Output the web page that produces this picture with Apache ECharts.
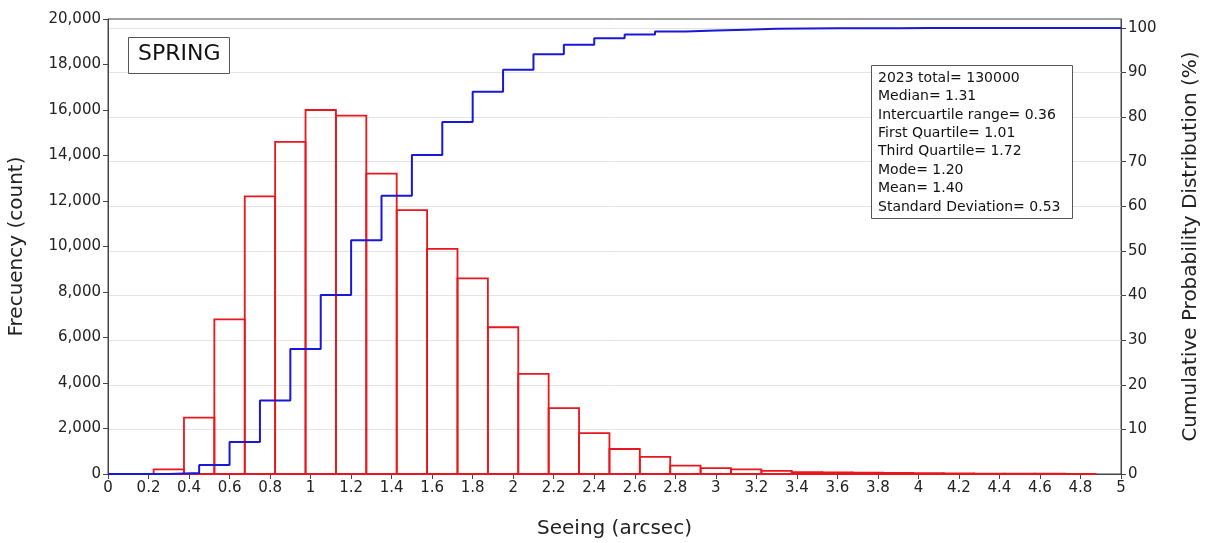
<!DOCTYPE html>
<html>
<head>
<meta charset="utf-8">
<script src="https://cdn.jsdelivr.net/npm/echarts@6/dist/echarts.min.js"></script>
<style>
html,body{margin:0;padding:0;background:#fff;}
#chart{width:1205px;height:543px;}
</style>
</head>
<body>
<div id="chart"></div>
<script>
// ---- data ----
var binWidth = 0.15;
var binCenters = [0.3,0.45,0.6,0.75,0.9,1.05,1.2,1.35,1.5,1.65,1.8,1.95,2.1,2.25,2.4,2.55,2.7,2.85,3.0,3.15,3.3,3.45,3.6,3.75,3.9,4.05,4.2,4.35,4.5,4.65,4.8];
var counts = [200,2480,6800,12200,14600,16000,15750,13200,11600,9900,8600,6450,4400,2900,1800,1100,750,370,260,200,140,80,70,60,45,35,25,20,15,10,6];
var cumX = [0,0.3,0.45,0.6,0.75,0.9,1.05,1.2,1.35,1.5,1.65,1.8,1.95,2.1,2.25,2.4,2.55,2.7,2.85,3.0,3.15,3.3,3.45,3.6,3.75,3.9,4.05,4.2,4.35,4.5,4.65,4.8,5.0];
var cumPct = [0,0.2,2.0,7.2,16.5,28.0,40.1,52.4,62.4,71.5,78.9,85.7,90.6,94.1,96.2,97.7,98.5,99.2,99.4,99.6,99.8,99.85,99.9,99.92,99.94,99.96,99.97,99.98,99.99,100,100,100,100];
var xTickLabels = ['0','0.2','0.4','0.6','0.8','1','1.2','1.4','1.6','1.8','2','2.2','2.4','2.6','2.8','3','3.2','3.4','3.6','3.8','4','4.2','4.4','4.6','4.8','5'];
var rightTicks = [0,10,20,30,40,50,60,70,80,90,100];
var seasonLabel = 'SPRING';
var statsLines = ['2023 total= 130000','Median= 1.31','Intercuartile range= 0.36','First Quartile= 1.01','Third Quartile= 1.72','Mode= 1.20','Mean= 1.40','Standard Deviation= 0.53'];

var FONT = 'DejaVu Sans';
var histData = binCenters.map(function(c,i){return [c, counts[i]];});
var cumData = cumX.map(function(x,i){return [x, cumPct[i]];});

var chart = echarts.init(document.getElementById('chart'), null, {renderer:'canvas'});
var axisLineStyle = {color:'#444', width:1};
var option = {
  backgroundColor:'#fff',
  animation:false,
  grid:{left:108, right:84, top:19, bottom:69, outerBoundsMode:'none', containLabel:false, show:true, borderColor:'#444', borderWidth:1, backgroundColor:'transparent'},
  xAxis:{
    type:'value', min:0, max:5, interval:0.2,
    name:'Seeing (arcsec)', nameLocation:'middle', nameGap:45,
    nameTextStyle:{fontFamily:FONT, fontSize:20, color:'#222'},
    axisLine:{show:true, lineStyle:axisLineStyle},
    axisTick:{show:true, inside:false, length:5, lineStyle:axisLineStyle},
    axisLabel:{fontFamily:FONT, fontSize:15, color:'#222', margin:7,
      formatter:function(v){var i=Math.round(v/0.2); return xTickLabels[i]!==undefined?xTickLabels[i]:'';}},
    splitLine:{show:false}
  },
  yAxis:[{
    type:'value', min:0, max:20000, interval:2000, position:'left',
    name:'Frecuency (count)', nameLocation:'middle', nameGap:81,
    nameTextStyle:{fontFamily:FONT, fontSize:20, color:'#222'},
    axisLine:{show:true, lineStyle:axisLineStyle},
    axisTick:{show:true, inside:false, length:5, lineStyle:axisLineStyle},
    axisLabel:{fontFamily:FONT, fontSize:15, color:'#222', margin:7,
      formatter:function(v){return v.toLocaleString('en-US');}},
    splitLine:{show:false}
  },{
    type:'value', min:0, max:102, position:'right',
    name:'Cumulative Probability Distribution (%)', nameLocation:'middle', nameGap:60,
    nameTextStyle:{fontFamily:FONT, fontSize:20, color:'#222'},
    axisLine:{show:true, lineStyle:axisLineStyle},
    axisTick:{show:true, inside:false, length:5, lineStyle:axisLineStyle, customValues:rightTicks},
    axisLabel:{fontFamily:FONT, fontSize:15, color:'#222', margin:7, customValues:rightTicks},
    splitLine:{show:true, lineStyle:{color:'#e4e4e4', width:1}}
  }],
  series:[{
    type:'custom', name:'hist', xAxisIndex:0, yAxisIndex:0, z:2,
    data:histData,
    renderItem:function(params, api){
      var c = api.value(0), v = api.value(1);
      var p0 = api.coord([c - binWidth/2, v]);
      var p1 = api.coord([c + binWidth/2, 0]);
      return {type:'rect', shape:{x:p0[0], y:p0[1], width:p1[0]-p0[0], height:p1[1]-p0[1]},
        style:{fill:null, stroke:'#e8161e', lineWidth:1.8}};
    }
  },{
    type:'line', name:'cum', xAxisIndex:0, yAxisIndex:1, z:3,
    step:'end', showSymbol:false, data:cumData,
    lineStyle:{color:'#1818d6', width:2}
  }],
  graphic:[
    {type:'rect', left:128, top:37, z:100, shape:{width:101,height:36}, style:{fill:'#fff', stroke:'#555', lineWidth:1}},
    {type:'text', left:138, top:43, z:101, style:{text:seasonLabel, fontFamily:FONT, fontSize:22, fill:'#111'}},
    {type:'rect', left:871, top:65, z:100, shape:{width:201,height:153}, style:{fill:'#fff', stroke:'#555', lineWidth:1}},
    {type:'text', left:878, top:69, z:101, style:{text:statsLines.join('\n'), fontFamily:FONT, fontSize:14, lineHeight:18.4, fill:'#111'}}
  ]
};
chart.setOption(option);
</script>
</body>
</html>
